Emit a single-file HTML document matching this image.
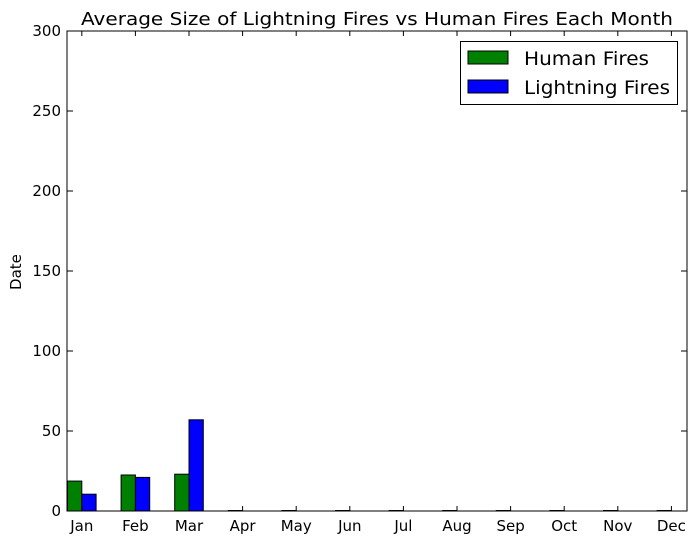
<!DOCTYPE html>
<html><head><meta charset="utf-8"><style>
body{margin:0;background:#fff;}
svg{font-family:"DejaVu Sans","Liberation Sans",sans-serif;}
</style></head><body>
<svg id="chart" width="697" height="542">
<rect width="697" height="542" fill="#fff"/>
<text x="377" y="25" font-size="18" text-anchor="middle" textLength="592" lengthAdjust="spacingAndGlyphs">Average Size of Lightning Fires vs Human Fires Each Month</text>
<text x="21" y="272" font-size="15" text-anchor="middle" transform="rotate(-90 21 272)">Date</text>
<g id="bars"></g>
<g id="axes"></g>
<rect x="67" y="31" width="620" height="480" fill="none" stroke="#000" stroke-width="1"/>
<g>
<rect x="460.5" y="41.5" width="217" height="63" fill="#fff" stroke="#000"/>
<g>
<rect x="468" y="51" width="40" height="13" fill="#008000" stroke="#000"/>
<text x="524" y="65" font-size="19" textLength="125" lengthAdjust="spacingAndGlyphs">Human Fires</text></g>
<g>
<rect x="468" y="80" width="40" height="13" fill="#0000ff" stroke="#000"/>
<text x="524" y="94" font-size="19" textLength="146" lengthAdjust="spacingAndGlyphs">Lightning Fires</text></g>
</g>
</svg>
<script>
const months=["Jan","Feb","Mar","Apr","May","Jun","Jul","Aug","Sep","Oct","Nov","Dec"];
const humanFires=[18.7,22.5,23,0.3,0.3,0.3,0.3,0.3,0.3,0.3,0.3,0.3];
const lightningFires=[10.5,21,57,0,0,0,0,0,0,0,0,0];
const yTicks=[0,50,100,150,200,250,300];
const NS="http://www.w3.org/2000/svg";
const x0=67.5, step=53.6, bw=14.3, yb=511, yt=31, ymax=300;
const xs=i=>x0+i*step;
const ys=v=>yb-(v/ymax)*(yb-yt);
const bars=document.getElementById('bars'), axes=document.getElementById('axes');
function mk(t,a,p){const e=document.createElementNS(NS,t);for(const k in a)e.setAttribute(k,a[k]);p.appendChild(e);return e;}
months.forEach((m,i)=>{
  const g=mk('rect',{x:xs(i),y:ys(humanFires[i]),width:bw,height:yb-ys(humanFires[i]),fill:'#008000',stroke:'#000','stroke-width':1},bars);
  
  
  const b=mk('rect',{x:xs(i)+bw,y:ys(lightningFires[i]),width:bw,height:yb-ys(lightningFires[i]),fill:'#0000ff',stroke:'#000','stroke-width':1},bars);
  
  
  const cx=xs(i)+bw;
  mk('line',{x1:cx,x2:cx,y1:yb,y2:yb-5,stroke:'#000'},axes);
  mk('line',{x1:cx,x2:cx,y1:yt,y2:yt+5,stroke:'#000'},axes);
  const t=mk('text',{x:cx,y:yb+20,'font-size':15,'text-anchor':'middle'},axes);
  t.textContent=m;
  
  
});
yTicks.forEach(v=>{
  const y=ys(v);
  mk('line',{x1:67,x2:73,y1:y,y2:y,stroke:'#000'},axes);
  mk('line',{x1:681,x2:687,y1:y,y2:y,stroke:'#000'},axes);
  const t=mk('text',{x:61,y:y+5,'font-size':15,'text-anchor':'end'},axes);
  t.textContent=v;
  
  
});
</script>
</body></html>
